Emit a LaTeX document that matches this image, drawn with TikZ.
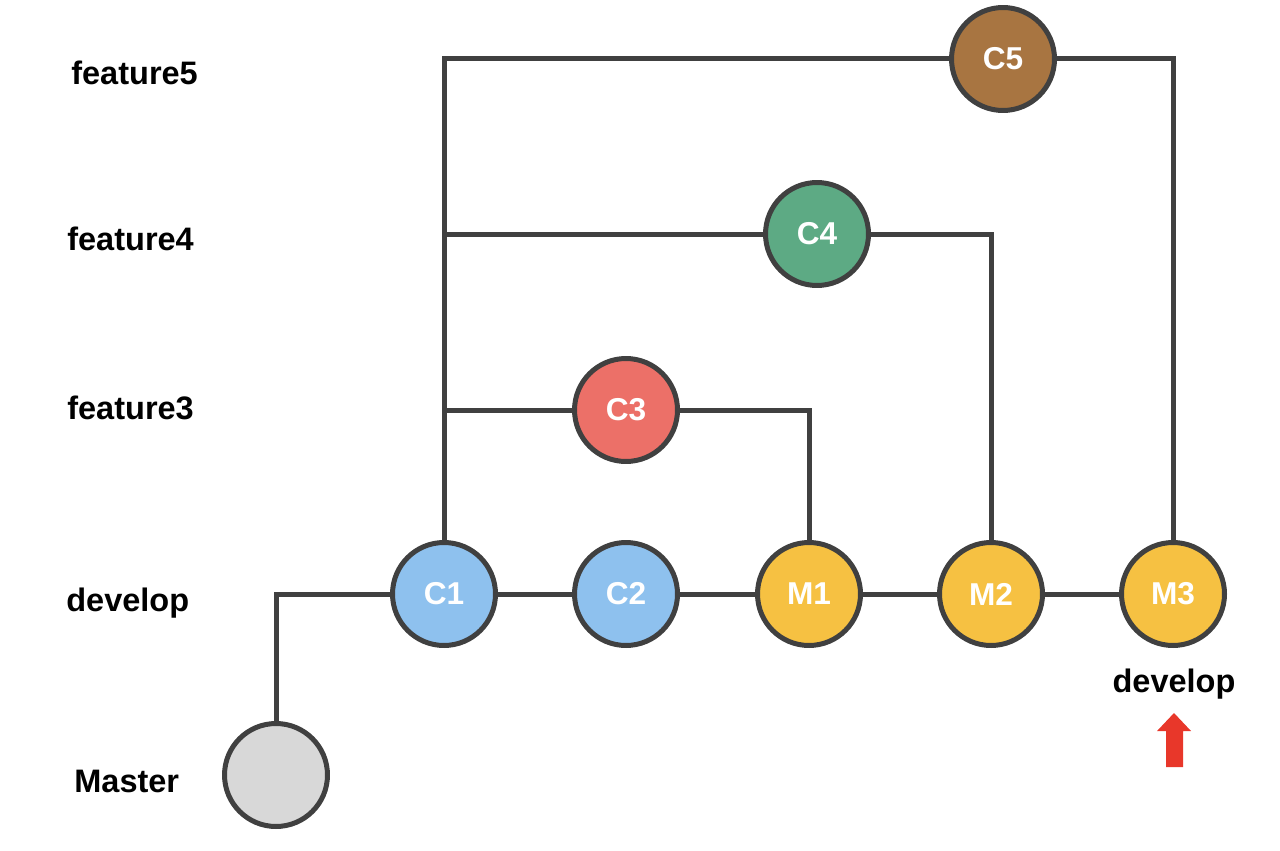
\documentclass[tikz,border=0pt]{standalone}
\usepackage{fontspec}
\setmainfont{Liberation Sans}
\definecolor{edge}{HTML}{404040}
\definecolor{devblue}{HTML}{8EC1EE}
\definecolor{mergeyel}{HTML}{F6C142}
\definecolor{featred}{HTML}{EC7068}
\definecolor{featgreen}{HTML}{5DAA84}
\definecolor{featbrown}{HTML}{A87541}
\definecolor{mastergray}{HTML}{D8D8D8}
\definecolor{tagred}{HTML}{E8372A}
\tikzset{
  commit/.style={circle,draw=edge,line width=0.1cm,minimum size=2.06cm,inner sep=0pt,
    text=white,font=\fontsize{18}{20}\selectfont\bfseries},
  branch/.style={draw=edge,line width=0.1cm},
  lane/.style={anchor=base west,inner sep=0pt,font=\fontsize{18.5}{20}\selectfont\bfseries}
}
\begin{document}
\begin{tikzpicture}[x=0.02cm,y=-0.02cm]
    \useasboundingbox (0,0) rectangle (1280,851);
    % commits
    \node[commit,fill=mastergray] (m0) at (276,775) {};
    \node[commit,fill=devblue] (c1) at (444,594) {C1};
    \node[commit,fill=devblue] (c2) at (626,594) {C2};
    \node[commit,fill=mergeyel] (m1) at (809,594) {M1};
    \node[commit,fill=mergeyel] (m2) at (991,594) {M2};
    \node[commit,fill=mergeyel] (m3) at (1173,594) {M3};
    \node[commit,fill=featred] (c3) at (626,410) {C3};
    \node[commit,fill=featgreen] (c4) at (817,234) {C4};
    \node[commit,fill=featbrown] (c5) at (1003,59) {C5};
    % lanes
    \node[lane] (lf5) at (71,85) {feature5};
    \node[lane] (lf4) at (67,250) {feature4};
    \node[lane] (lf3) at (67,419) {feature3};
    \node[lane] (ldev) at (66,611) {develop};
    \node[lane] (lmaster) at (74,792) {Master};
    \node[lane,anchor=base] (ltag) at (1174,692) {develop};
    % history
    \draw[branch] (m0) |- (c1);
    \draw[branch] (c1) -- (c2) -- (m1) -- (m2) -- (m3);
    \draw[branch] (c1) |- (c5);
    \draw[branch] (c1) |- (c4);
    \draw[branch] (c1) |- (c3);
    \draw[branch] (c3) -| (m1);
    \draw[branch] (c4) -| (m2);
    \draw[branch] (c5) -| (m3);
    % head marker
    \fill[tagred] (1174,713) -- (1191,731) -- (1183,731) -- (1183,767)
      -- (1166,767) -- (1166,731) -- (1157,731) -- cycle;
  \end{tikzpicture}
\end{document}
